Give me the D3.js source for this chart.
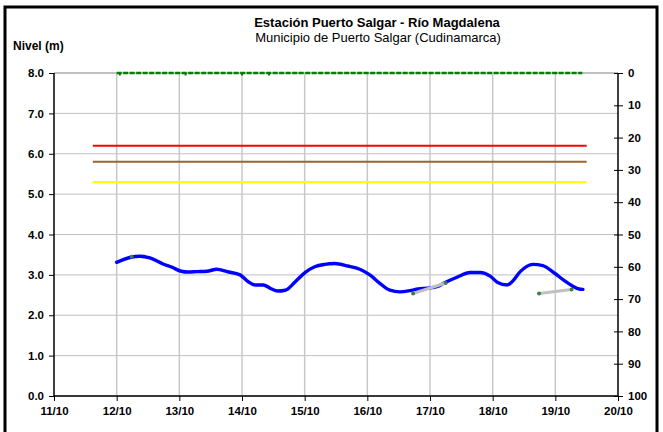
<!DOCTYPE html>
<html><head><meta charset="utf-8">
<script src="https://cdn.jsdelivr.net/npm/d3@7"></script>
<style>
html,body{margin:0;padding:0;background:#fff;}
svg{display:block;font-family:"Liberation Sans",Arial,sans-serif;}
</style></head>
<body><svg id="c" width="663" height="432"></svg>
<script>
// ---- data (days counted from 11/10 00:00) ----
const dayTickLabels = ["11/10","12/10","13/10","14/10","15/10","16/10","17/10","18/10","19/10","20/10"];
const levelTicks = [0,1,2,3,4,5,6,7,8];
const rainTicks = [0,10,20,30,40,50,60,70,80,90,100];

const levelDays = [1.00,1.21,1.37,1.53,1.74,1.88,2.03,2.14,2.28,2.44,2.60,2.76,2.97,3.10,3.21,3.34,3.45,3.57,3.69,3.85,4.00,4.16,4.32,4.48,4.69,4.88,5.04,5.20,5.36,5.52,5.68,5.81,5.95,6.11,6.24,6.43,6.64,6.80,6.96,7.08,7.23,7.31,7.44,7.64,7.80,7.99,8.15,8.28,8.38,8.44];
const levelValues = [3.31,3.43,3.46,3.42,3.27,3.19,3.09,3.07,3.08,3.09,3.14,3.08,3.00,2.83,2.75,2.75,2.67,2.60,2.62,2.83,3.05,3.20,3.26,3.28,3.22,3.14,3.00,2.79,2.62,2.58,2.61,2.65,2.67,2.71,2.81,2.94,3.06,3.06,2.97,2.81,2.75,2.83,3.08,3.26,3.23,3.04,2.85,2.72,2.65,2.64];

const manualDays = [1.24,1.30,5.73,6.25,7.00,7.74,8.26];
const manualValues = [3.45,null,2.54,2.80,null,2.54,2.64];

const rainDays = [1.0,1.5,2.0,2.5,3.0,3.5,4.0,4.5,5.0,5.5,6.0,6.5,7.0,7.5,8.0,8.43];
const rainValues = [0,0,0,0,0,0,0,0,0,0,0,0,0,0,0,0];
const rainMarkDays = [1.05,2.1,3.0,3.43];

const thresholdNames = ["roja","naranja","amarilla"];
const thresholdValues = [6.2,5.8,5.3];
const thresholdColors = ["#ff0000","#996633","#ffff00"];
const thresholdSpan = [0.62,8.5];

const titleText = "Estación Puerto Salgar - Río Magdalena";
const subtitleText = "Municipio de Puerto Salgar (Cudinamarca)";
const yTitle = "Nivel (m)";

// ---- chart ----
const svg = d3.select("#c");
const x = d3.scaleLinear().domain([0,9]).range([54,618]);
const y = d3.scaleLinear().domain([0,8]).range([396,73]);
const y2 = d3.scaleLinear().domain([0,100]).range([73,396]);

// frame
svg.append("rect").attr("x",5).attr("y",7).attr("width",652).attr("height",440)
  .attr("fill","none").attr("stroke","#000").attr("stroke-width",3);

// titles
svg.append("text").attr("x",377).attr("y",27).attr("text-anchor","middle")
  .attr("font-weight","bold").attr("font-size",13).text(titleText);
svg.append("text").attr("x",378).attr("y",42).attr("text-anchor","middle")
  .attr("font-size",13).text(subtitleText);
svg.append("text").attr("x",13).attr("y",50)
  .attr("font-weight","bold").attr("font-size",12).text(yTitle);

// grid
const grid = svg.append("g");
grid.selectAll("line.h").data(levelTicks).join("line")
  .attr("x1",x(0)).attr("x2",x(9)).attr("y1",d=>y(d)).attr("y2",d=>y(d))
  .attr("stroke","#c0c0c0").attr("stroke-width",d=>d===8?2:1);
grid.selectAll("line.v").data(d3.range(1,9)).join("line")
  .attr("y1",y(0)).attr("y2",y(8)).attr("x1",d=>x(d)).attr("x2",d=>x(d))
  .attr("stroke","#c8c8c8").attr("stroke-width",1.5);

// axes
const axL = d3.axisLeft(y).tickValues(levelTicks).tickFormat(d3.format(".1f")).tickSize(5).tickPadding(5);
const gL = svg.append("g").attr("transform",`translate(${x(0)},0)`).call(axL);
const axB = d3.axisBottom(x).tickValues(d3.range(0,10)).tickFormat(i=>dayTickLabels[i]).tickSize(5).tickPadding(4);
const gB = svg.append("g").attr("transform",`translate(0,${y(0)})`).call(axB);
const axR = d3.axisRight(y2).tickValues(rainTicks).tickSize(5).tickPadding(5);
const gR = svg.append("g").attr("transform",`translate(${x(9)},0)`).call(axR);
gR.selectAll(".tick line").attr("x1",-4);
[gL,gB,gR].forEach(g=>{
  g.select(".domain").attr("stroke","#000").attr("stroke-width",1.5);
  g.selectAll(".tick line").attr("stroke","#000");
  g.selectAll("text").attr("font-size",11.5).attr("font-weight","bold")
    .attr("font-family","'Liberation Sans',Arial,sans-serif").attr("fill","#000");
});
gL.select(".domain").attr("d",`M0,${y(0)}V${y(8)}`);
gB.select(".domain").attr("d",`M${x(0)},0H${x(9)}`);
gR.select(".domain").attr("d",`M0,${y2(0)}V${y2(100)}`);
gB.selectAll("text").attr("dy","0.9em");

// thresholds
svg.append("g").selectAll("line").data(thresholdValues).join("line")
  .attr("x1",x(thresholdSpan[0])).attr("x2",x(thresholdSpan[1]))
  .attr("y1",d=>y(d)).attr("y2",d=>y(d))
  .attr("stroke",(d,i)=>thresholdColors[i]).attr("stroke-width",2);

// rain series (right axis)
const rainLine = d3.line().x((d,i)=>x(rainDays[i])).y(d=>y2(d));
svg.append("path").datum(rainValues).attr("d",rainLine)
  .attr("fill","none").attr("stroke","#008000").attr("stroke-width",2.5)
  .attr("stroke-dasharray","5,1.5");
svg.append("g").selectAll("rect").data(rainMarkDays).join("rect")
  .attr("x",d=>x(d)-1).attr("y",y2(0)).attr("width",2).attr("height",2.5).attr("fill","#008000");

// level series
const lvlLine = d3.line().x((d,i)=>x(levelDays[i])).y(d=>y(d)).curve(d3.curveMonotoneX);
svg.append("path").datum(levelValues).attr("d",lvlLine)
  .attr("fill","none").attr("stroke","#0000ff").attr("stroke-width",3.4)
  .attr("stroke-linejoin","round").attr("stroke-linecap","round");

// manual readings
const manLine = d3.line().defined(d=>d!==null).x((d,i)=>x(manualDays[i])).y(d=>y(d));
svg.append("path").datum(manualValues).attr("d",manLine)
  .attr("fill","none").attr("stroke","#c0c0c0").attr("stroke-width",3);
svg.append("g").selectAll("circle").data(manualValues.map((v,i)=>[manualDays[i],v]).filter(d=>d[1]!==null)).join("circle")
  .attr("cx",d=>x(d[0])).attr("cy",d=>y(d[1])).attr("r",2)
  .attr("fill","#3f7f3f");
</script></body></html>
